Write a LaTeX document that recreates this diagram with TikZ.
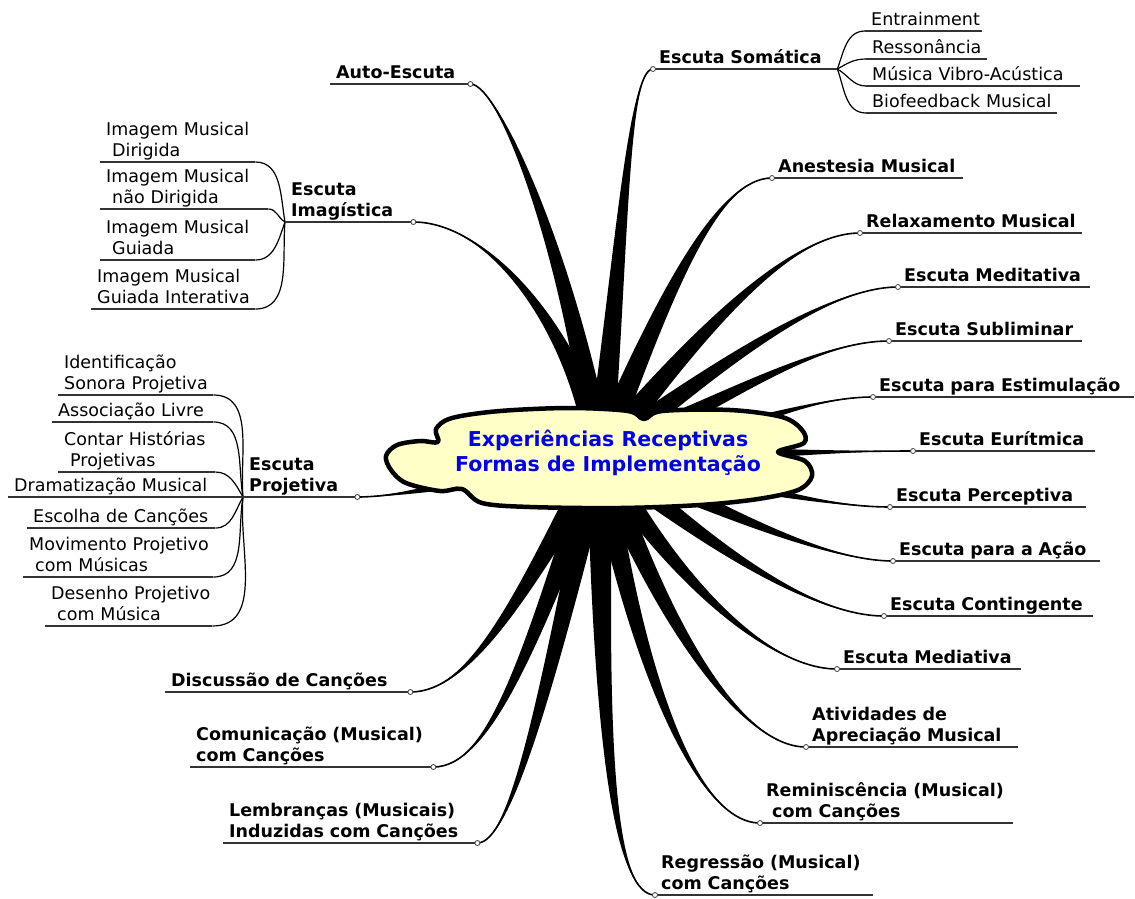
\documentclass[tikz,border=0pt]{standalone}
\usepackage{fontspec}
\setmainfont{DejaVu Sans}
\usepackage{tikz}
\usetikzlibrary{calc}
\usetikzlibrary{backgrounds}

\definecolor{cloudfill}{RGB}{255,255,200}
\definecolor{coreblue}{RGB}{0,0,235}
\newcommand{\lowstrut}{\rule[-5pt]{0pt}{5pt}}
\newcommand{\ind}{\hspace*{6pt}}
% tapered main branch from hub: controls #1 and #2, end #3
\newcommand{\branch}[3]{%
  \coordinate (bl) at ($(hub)!13pt!90:#1$);
  \coordinate (br) at ($(hub)!13pt!-90:#1$);
  \fill (bl) .. controls ($#1+0.5*(bl)-0.5*(hub)$) and #2 .. #3
        .. controls #2 and ($#1+0.5*(br)-0.5*(hub)$) .. (br) -- cycle;
  \draw[line width=1.6pt] (hub) .. controls #1 and #2 .. #3;
}

\begin{document}
\begin{tikzpicture}[x=1pt, y=-1pt,
    topic/.style={anchor=south west, inner sep=0pt, text width=#1, align=left,
      font=\fontsize{17.5}{21}\selectfont\bfseries,
      execute at begin node={\leftskip 6pt}, execute at end node={\lowstrut}},
    subtopic/.style={topic=#1, font=\fontsize{17.5}{21}\selectfont},
    core/.style={align=center, text=coreblue, font=\fontsize{20.5}{25}\selectfont\bfseries},
    uline/.style={line width=1.5pt, black!80},
    twig/.style={line width=1.2pt},
    knob/.style={draw=black!75, fill=white, line width=0.8pt}]
        \useasboundingbox (0,0) rectangle (1135,898);

        \coordinate (hub) at (600,455);
        \node[core] (core) at (608,453) {Experiências Receptivas\\Formas de Implementação};

        % right side
        \node[topic=184] (som) at (653,69) {Escuta Somática};
        \node[subtopic=117] (ent) at (865,31) {Entrainment};
        \node[subtopic=121] (res) at (866,59) {Ressonância};
        \node[subtopic=214] (vib) at (866,86) {Música Vibro-Acústica};
        \node[subtopic=191] (bio) at (866,113) {Biofeedback Musical};
        \node[topic=191] (anes) at (772,178) {Anestesia Musical};
        \node[topic=222] (relax) at (860,233) {Relaxamento Musical};
        \node[topic=192] (medit) at (898,287) {Escuta Meditativa};
        \node[topic=193] (subl) at (889,341) {Escuta Subliminar};
        \node[topic=261] (estim) at (873,397) {Escuta para Estimulação};
        \node[topic=182] (euri) at (913,451) {Escuta Eurítmica};
        \node[topic=196] (perc) at (890,507) {Escuta Perceptiva};
        \node[topic=207] (acao) at (893,561) {Escuta para a Ação};
        \node[topic=209] (cont) at (884,616) {Escuta Contingente};
        \node[topic=184] (media) at (837,669) {Escuta Mediativa};
        \node[topic=212] (ativ) at (806,747) {Atividades de\\Apreciação Musical};
        \node[topic=253] (remin) at (760,823) {Reminiscência (Musical)\\\ind com Canções};
        \node[topic=218] (regr) at (655,895) {Regressão (Musical)\\com Canções};

        % left side
        \node[topic=140] (auto) at (330,84) {Auto-Escuta};
        \node[topic=128] (imag) at (285,222) {Escuta\\Imagística};
        \node[subtopic=155] (dir) at (100,162) {Imagem Musical\\\ind Dirigida};
        \node[subtopic=168] (ndir) at (100,209) {Imagem Musical\\\ind não Dirigida};
        \node[subtopic=155] (gui) at (100,260) {Imagem Musical\\\ind Guiada};
        \node[subtopic=164] (guii) at (91,309) {Imagem Musical\\Guiada Interativa};
        \node[topic=114] (proj) at (243,497) {Escuta\\Projetiva};
        \node[subtopic=155] (ident) at (58,395) {Identificação\\Sonora Projetiva};
        \node[subtopic=161] (assoc) at (52,422) {Associação Livre};
        \node[subtopic=157] (contar) at (58,472) {Contar Histórias\\\ind Projetivas};
        \node[subtopic=235] (drama) at (8,497) {Dramatização Musical};
        \node[subtopic=188] (escol) at (27,528) {Escolha de Canções};
        \node[subtopic=190] (movim) at (23,577) {Movimento Projetivo\\\ind com Músicas};
        \node[subtopic=167] (desen) at (45,626) {Desenho Projetivo\\\ind com Música};
        \node[topic=245] (disc) at (165,692) {Discussão de Canções};
        \node[topic=243] (comun) at (190,767) {Comunicação (Musical)\\com Canções};
        \node[topic=254] (lembr) at (223,843) {Lembranças (Musicais)\\Induzidas com Canções};

        \begin{pgfonlayer}{background}
        \branch{(622,250)}{(628,69)}{(som.south west)}
        \branch{(670,280)}{(720,178)}{(anes.south west)}
        \branch{(700,330)}{(790,233)}{(relax.south west)}
        \branch{(700,380)}{(820,287)}{(medit.south west)}
        \branch{(710,410)}{(810,341)}{(subl.south west)}
        \branch{(720,440)}{(800,397)}{(estim.south west)}
        \branch{(720,455)}{(840,451)}{(euri.south west)}
        \branch{(720,480)}{(820,507)}{(perc.south west)}
        \branch{(700,500)}{(820,561)}{(acao.south west)}
        \branch{(680,520)}{(800,616)}{(cont.south west)}
        \branch{(660,560)}{(760,669)}{(media.south west)}
        \branch{(660,620)}{(740,747)}{(ativ.south west)}
        \branch{(630,640)}{(690,823)}{(remin.south west)}
        \branch{(600,750)}{(615,895)}{(regr.south west)}
        \branch{(570,260)}{(500,84)}{(auto.south east)}
        \branch{(575,330)}{(490,222)}{(imag.south east)}
        \branch{(480,480)}{(400,497)}{(proj.south east)}
        \branch{(520,600)}{(470,692)}{(disc.south east)}
        \branch{(530,650)}{(490,767)}{(comun.south east)}
        \branch{(545,700)}{(510,843)}{(lembr.south east)}

        % central cloud
        \filldraw[fill=cloudfill, line width=4.5pt, line join=round]
          plot[smooth cycle, tension=0.55] coordinates {
            (386,456) (397,445) (420,441) (438,442) (436,429) (452,418)
            (500,411) (570,408) (628,411) (644,419) (662,411) (730,410)
            (782,417) (802,430) (804,443) (778,452) (805,461) (812,476)
            (798,490) (758,499) (700,505) (620,508) (530,507) (482,503)
            (462,489) (440,491) (406,483) (391,470)};
        \end{pgfonlayer}

        % sub branches
        \draw[twig] (som.south east) to[out=70,in=180] (ent.south west);
        \draw[twig] (som.south east) to[out=30,in=180] (res.south west);
        \draw[twig] (som.south east) to[out=-30,in=180] (vib.south west);
        \draw[twig] (som.south east) to[out=-70,in=180] (bio.south west);
        \draw[twig] (imag.south west) to[out=100,in=0] (dir.south east);
        \draw[twig] (imag.south west) to[out=150,in=0] (ndir.south east);
        \draw[twig] (imag.south west) to[out=-110,in=0] (gui.south east);
        \draw[twig] (imag.south west) to[out=-95,in=0] (guii.south east);
        \draw[twig] (proj.south west) to[out=95,in=0] (ident.south east);
        \draw[twig] (proj.south west) to[out=100,in=0] (assoc.south east);
        \draw[twig] (proj.south west) to[out=120,in=0] (contar.south east);
        \draw[twig] (proj.south west) to[out=-120,in=0] (escol.south east);
        \draw[twig] (proj.south west) to[out=-100,in=0] (movim.south east);
        \draw[twig] (proj.south west) to[out=-95,in=0] (desen.south east);

        % underlines
        \foreach \n in {som,ent,res,vib,bio,anes,relax,medit,subl,estim,euri,perc,acao,cont,media,ativ,remin,regr,
                        auto,imag,dir,ndir,gui,guii,proj,ident,assoc,contar,drama,escol,movim,desen,disc,comun,lembr}
          \draw[uline] (\n.south west) -- (\n.south east);

        \foreach \n in {som,anes,relax,medit,subl,estim,euri,perc,acao,cont,media,ativ,remin,regr}
          \draw[knob] (\n.south west) circle (2.5);
        \foreach \n in {auto,imag,proj,disc,comun,lembr}
          \draw[knob] (\n.south east) circle (2.5);
    \end{tikzpicture}
\end{document}
